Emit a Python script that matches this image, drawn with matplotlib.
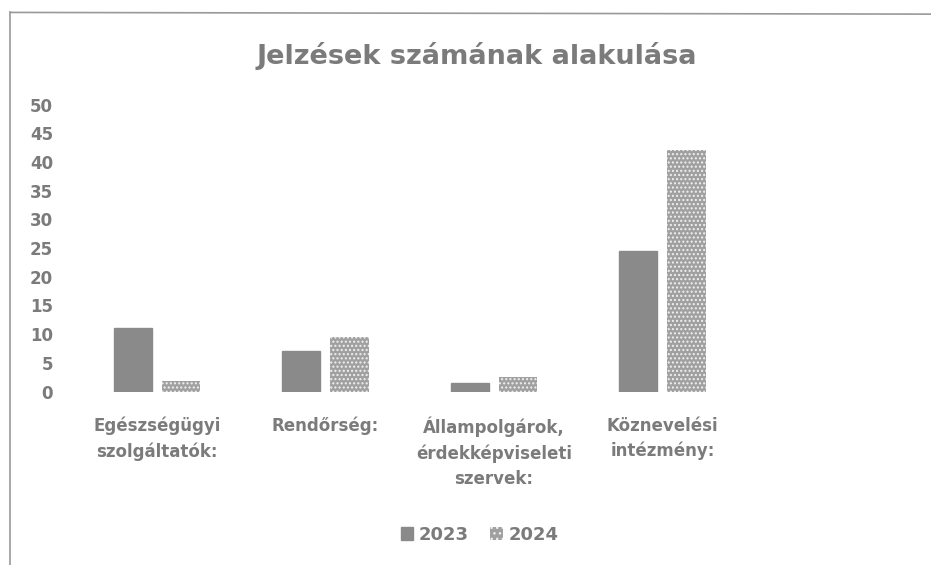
import matplotlib
matplotlib.use("Agg")
import matplotlib.pyplot as plt
import numpy as np
from matplotlib.lines import Line2D

categories = ["Egészségügyi\nszolgáltatók:", "Rendőrség:",
              "Állampolgárok,\nérdekképviseleti\nszervek:", "Köznevelési\nintézmény:"]
series_names = ["2023", "2024"]
values_2023 = [11, 7, 1.5, 24.5]
values_2024 = [1.75, 9.5, 2.5, 42]
yticks = [0, 5, 10, 15, 20, 25, 30, 35, 40, 45, 50]

TXT = "#7b7b7b"
plt.rcParams['font.family'] = ['DejaVu Sans']

fig = plt.figure(figsize=(9.31, 5.65), dpi=100)
ax = fig.add_axes([0.078, 0.307, 0.724, 0.508])

x = np.arange(len(categories))
w = 0.226
off = 0.143
ax.bar(x - off, values_2023, width=w, color="#8a8a8a", edgecolor="#8a8a8a", label=series_names[0])
ax.bar(x + off, values_2024, width=w, color="#a0a0a0", edgecolor="#f0f0f0", hatch="....",
       linewidth=0, label=series_names[1])

ax.set_xlim(-0.5, len(categories) - 0.5)
ax.set_ylim(0, 50)
ax.set_yticks(yticks)
ax.set_yticklabels([str(t) for t in yticks], fontsize=12, fontweight='bold', color=TXT)
ax.set_xticks(x)
ax.set_xticklabels(categories, fontsize=12, fontweight='bold', color=TXT, linespacing=1.5)
ax.tick_params(axis='both', length=0)
ax.tick_params(axis='y', pad=14)
ax.tick_params(axis='x', pad=18)
for s in ax.spines.values():
    s.set_visible(False)

fig.text(0.512, 0.9, "Jelzések számának alakulása", ha='center', va='center',
         fontsize=19.5, fontweight='bold', color=TXT)

handles = [plt.Rectangle((0, 0), 1, 1, color="#8a8a8a"),
           plt.Rectangle((0, 0), 1, 1, facecolor="#a0a0a0", edgecolor="#f0f0f0", hatch="...", linewidth=0)]
fig.legend(handles, series_names, loc='center', bbox_to_anchor=(0.515, 0.053), ncol=2,
           frameon=False, prop={'weight': 'bold', 'size': 13},
           handlelength=0.7, handleheight=0.7, columnspacing=1.2, handletextpad=0.3,
           labelcolor=TXT)

# scanned frame border lines
fig.add_artist(Line2D([0.011, 1.0], [0.978, 0.975], color="#999999", lw=1.2, transform=fig.transFigure))
fig.add_artist(Line2D([0.011, 0.011], [0.978, 0.0], color="#999999", lw=1.2, transform=fig.transFigure))

fig.savefig("out.png", dpi=100)
